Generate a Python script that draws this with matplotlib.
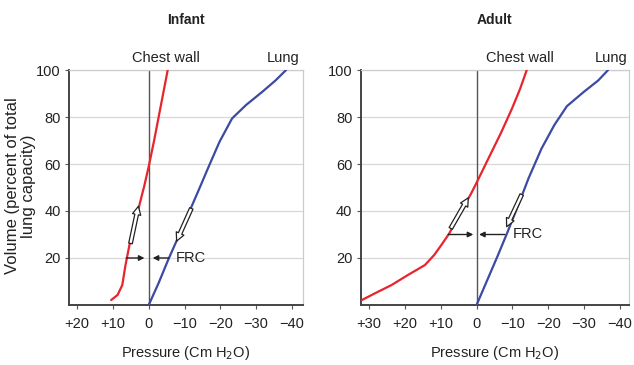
import numpy as np
import matplotlib.pyplot as plt
from matplotlib.patches import FancyArrowPatch

plt.rcParams['font.family'] = ['Liberation Sans', 'DejaVu Sans']

# Infant curves (pressure cm H2O, volume % TLC)
inf_chest_p = [10.5, 8.7, 7.4, 6.5, 5.4, 4.0, 2.6, 1.2, 0.0, -1.5, -3.4, -5.3]
inf_chest_v = [2.1, 4.3, 8.5, 17.0, 25.5, 34.0, 42.6, 51.0, 59.0, 70.0, 85.0, 100.0]
inf_lung_p = [0.0, -2.8, -5.4, -8.1, -11.2, -14.1, -16.9, -19.8, -23.3, -27.2, -31.8, -35.4, -38.4]
inf_lung_v = [0.0, 9.5, 19.1, 28.4, 39.2, 49.4, 59.4, 69.5, 79.4, 85.1, 90.8, 95.5, 100.0]

# Adult curves
ad_chest_p = [32.0, 28.3, 23.7, 19.1, 14.4, 11.8, 9.6, 7.6, 4.4, 1.6, 0.0, -3.2, -6.8, -9.8, -12.1, -14.0]
ad_chest_v = [2.1, 5.0, 8.5, 12.8, 17.0, 21.3, 26.0, 30.5, 39.5, 47.2, 52.0, 62.0, 73.2, 83.3, 91.8, 100.0]
ad_lung_p = [0.0, -3.1, -6.0, -8.5, -11.6, -14.5, -18.1, -21.7, -25.2, -30.0, -33.9, -36.7]
ad_lung_v = [0.0, 11.0, 21.3, 30.5, 42.4, 53.9, 66.5, 76.6, 84.6, 90.8, 95.5, 100.0]

inf_ticks = [20, 10, 0, -10, -20, -30, -40]
inf_labels = ['+20', '+10', '0', '\u221210', '\u221220', '\u221230', '\u221240']
ad_ticks = [30, 20, 10, 0, -10, -20, -30, -40]
ad_labels = ['+30', '+20', '+10', '0', '\u221210', '\u221220', '\u221230', '\u221240']
y_ticks = [20, 40, 60, 80, 100]

# FRC markers: volume, chest arrow, lung arrow, hollow arrows, label x
inf_frc = dict(v=20, chest=(6.3, 1.2), lung=(-5.6, -1.1), text=-7.5,
               hollow=[((5.1, 26.2), (2.9, 42.0)), ((-11.9, 41.1), (-7.8, 27.2))])
ad_frc = dict(v=30, chest=(7.9, 0.9), lung=(-7.9, -0.7), text=-10.2,
              hollow=[((7.2, 32.6), (2.3, 45.6)), ((-12.6, 47.0), (-8.4, 33.3))])

RED = '#e8242c'
BLUE = '#3b4aa3'

fig = plt.figure(figsize=(6.34, 3.65), dpi=100)
ax1 = fig.add_axes([0.1088, 0.1644, 0.369, 0.6438])
ax2 = fig.add_axes([0.569, 0.1644, 0.423, 0.6438])


def panel(ax, cp, cv, lp, lv, ticks, labels, xlim, frc, title, chest_x, lung_x):
    ax.set_xlim(*xlim)
    ax.set_ylim(0, 100)
    for y in y_ticks:
        ax.axhline(y, color='#d8d8d8', lw=0.9, zorder=0)
    ax.axvline(0, color='#555555', lw=1.0, zorder=1)
    ax.plot(cp, cv, color=RED, lw=1.6, zorder=3, solid_capstyle='round', solid_joinstyle='round')
    ax.plot(lp, lv, color=BLUE, lw=1.6, zorder=3, solid_capstyle='round', solid_joinstyle='round')
    ax.set_xticks(ticks)
    ax.set_xticklabels(labels)
    ax.set_yticks(y_ticks)
    ax.tick_params(labelsize=10.5, length=3, color='#555555', labelcolor='#222222')
    ax.tick_params(axis='x', pad=6)
    ax.tick_params(axis='y', pad=3)
    for s in ['left', 'bottom']:
        ax.spines[s].set_color('#444444')
        ax.spines[s].set_linewidth(1.4)
    for s in ['top', 'right']:
        ax.spines[s].set_color('#cccccc')
        ax.spines[s].set_linewidth(0.9)
    v = frc['v']
    for a, b in [frc['chest'], frc['lung']]:
        ax.annotate('', xy=(b, v), xytext=(a, v),
                    arrowprops=dict(arrowstyle='-|>', color='#222222', lw=1.0,
                                    mutation_scale=8, shrinkA=0, shrinkB=0))
    ax.text(frc['text'], v, 'FRC', fontsize=10.5, va='center', ha='left', color='#222222')
    for (a, b) in frc['hollow']:
        ax.add_patch(FancyArrowPatch(a, b, arrowstyle='simple,head_length=0.5,head_width=0.5,tail_width=0.22',
                                     mutation_scale=12, facecolor='white', edgecolor='#222222',
                                     lw=0.9, zorder=4, shrinkA=0, shrinkB=0))
    ax.set_xlabel('Pressure (Cm H$_2$O)', fontsize=10.5, labelpad=9, color='#222222')
    ax.text(chest_x, 1.051, 'Chest wall', fontsize=10.5, ha='center', va='center',
            transform=ax.get_xaxis_transform(), color='#222222')
    ax.text(lung_x, 1.051, 'Lung', fontsize=10.5, ha='center', va='center',
            transform=ax.get_xaxis_transform(), color='#222222')
    pos = ax.get_position()
    fig.text(pos.x0 + pos.width / 2, 1 - 20 / 365, title, fontsize=10, fontweight='bold',
             ha='center', va='center', color='#222222')


panel(ax1, inf_chest_p, inf_chest_v, inf_lung_p, inf_lung_v, inf_ticks, inf_labels,
      (22.3, -43.1), inf_frc, 'Infant', -4.8, -37.5)
panel(ax2, ad_chest_p, ad_chest_v, ad_lung_p, ad_lung_v, ad_ticks, ad_labels,
      (32.3, -42.5), ad_frc, 'Adult', -12.2, -37.6)

# two-line y label, lines placed individually
fig.text(13 / 634, 1 - 186 / 365, 'Volume (percent of total', fontsize=12,
         rotation=90, ha='center', va='center', color='#222222')
fig.text(28 / 634, 1 - 186 / 365, 'lung capacity)', fontsize=12,
         rotation=90, ha='center', va='center', color='#222222')

fig.savefig('out.png', dpi=100)
